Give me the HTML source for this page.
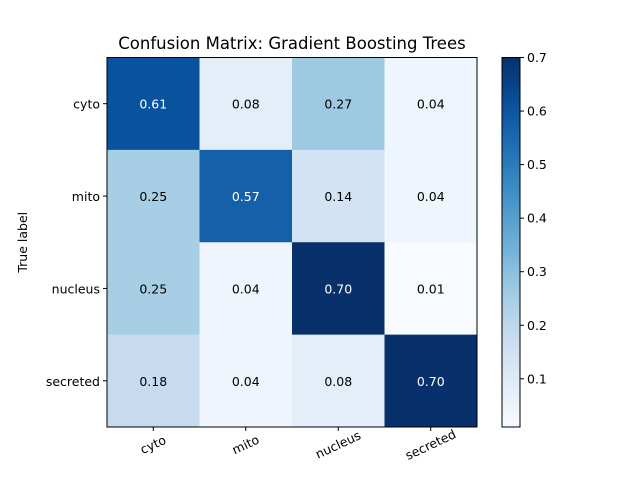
<!DOCTYPE html>
<html><head><meta charset="utf-8"><style>
body{margin:0;background:#fff;}
text{font-family:"DejaVu Sans","Liberation Sans",sans-serif;}
</style></head><body>
<svg id="chart" width="640" height="480" xmlns="http://www.w3.org/2000/svg">
<defs><linearGradient id="cbgrad" x1="0" y1="1" x2="0" y2="0"></linearGradient></defs>
<text x="292" y="49" font-size="16.5" text-anchor="middle">Confusion Matrix: Gradient Boosting Trees</text>
<g id="cells"></g>
<g id="axes"></g>
</svg>
<script>
const categories = ["cyto","mito","nucleus","secreted"];
const row0 = [0.61,0.08,0.27,0.04];
const row1 = [0.25,0.57,0.14,0.04];
const row2 = [0.25,0.04,0.70,0.01];
const row3 = [0.18,0.04,0.08,0.70];
const matrix = [row0,row1,row2,row3];
const cbTicks = [0.1,0.2,0.3,0.4,0.5,0.6,0.7];

const NS="http://www.w3.org/2000/svg";
const svg=document.getElementById('chart');
const cellsG=document.getElementById('cells');
const axesG=document.getElementById('axes');
const X0=107, Y0=57.5, W=370, H=369.5;
const n=categories.length, cw=W/n, ch=H/n;
const all=matrix.flat();
const vmin=Math.min(...all), vmax=Math.max(...all);
const stops=["#f7fbff","#deebf7","#c6dbef","#9ecae1","#6baed6","#4292c6","#2171b5","#08519c","#08306b"];
function hex(h){return [1,3,5].map(i=>parseInt(h.substr(i,2),16));}
function blues(t){t=Math.max(0,Math.min(1,t));const p=t*8,i=Math.min(7,Math.floor(p)),f=p-i;
 const a=hex(stops[i]),b=hex(stops[i+1]);return 'rgb('+a.map((v,k)=>Math.round(v+(b[k]-v)*f)).join(',')+')';}
function norm(v){return (v-vmin)/(vmax-vmin);}
function mk(tag,attrs,parent){const e=document.createElementNS(NS,tag);for(const k in attrs)e.setAttribute(k,attrs[k]);parent.appendChild(e);return e;}

matrix.forEach((row,r)=>row.forEach((v,c)=>{
 const rect=mk('rect',{x:X0+c*cw,y:Y0+r*ch,width:cw+0.5,height:ch+0.5,fill:blues(norm(v))},cellsG);
 
 
 const t=mk('text',{x:X0+(c+0.5)*cw,y:Y0+(r+0.5)*ch+5,'font-size':12.5,'text-anchor':'middle',fill:v>vmax/2?'#fff':'#000'},cellsG);
 t.textContent=v.toFixed(2);
 
 
}));
const frame=mk('rect',{x:X0,y:Y0,width:W,height:H,fill:'none',stroke:'#000','stroke-width':1},axesG);


categories.forEach((c,i)=>{
 const y=Y0+(i+0.5)*ch;
 mk('line',{x1:X0-4,x2:X0,y1:y,y2:y,stroke:'#000'},axesG);
 const t=mk('text',{x:X0-7,y:y+5,'font-size':12.5,'text-anchor':'end'},axesG);
 t.textContent=c;
 
 
 const x=X0+(i+0.5)*cw;
 mk('line',{x1:x,x2:x,y1:Y0+H,y2:Y0+H+4,stroke:'#000'},axesG);
 const tx=mk('text',{x:x,y:Y0+H+22,'font-size':12.5,'text-anchor':'middle',transform:'rotate(-25 '+x+' '+(Y0+H+18)+')'},axesG);
 tx.textContent=c;
 
 
});
const yl=mk('text',{x:27,y:Y0+H/2,'font-size':12.5,'text-anchor':'middle',transform:'rotate(-90 27 '+(Y0+H/2)+')'},axesG);
yl.textContent='True label';



const CX=502, CW=18, CY=Y0, CH=H;
const grad=document.getElementById('cbgrad');
for(let i=0;i<=20;i++){mk('stop',{offset:(i/20),'stop-color':blues(i/20)},grad);}
const cb=mk('rect',{x:CX,y:CY,width:CW,height:CH,fill:'url(#cbgrad)',stroke:'#000','stroke-width':1},axesG);


function cby(v){return CY+CH-norm(v)*CH;}
cbTicks.forEach(v=>{
 const y=cby(v);
 mk('line',{x1:CX+CW,x2:CX+CW+4,y1:y,y2:y,stroke:'#000'},axesG);
 const t=mk('text',{x:CX+CW+7,y:y+4.5,'font-size':12.5},axesG);
 t.textContent=v.toFixed(1);
 
 
});
</script>
</body></html>
